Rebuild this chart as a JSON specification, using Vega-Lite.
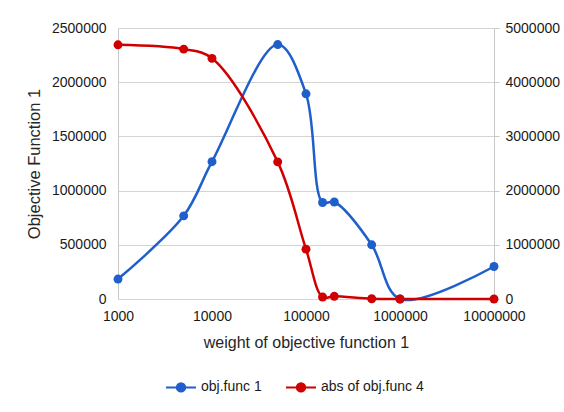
{
  "$schema": "https://vega.github.io/schema/vega-lite/v6.json",
  "width": 376,
  "height": 271,
  "autosize": "none",
  "padding": {"left": 118, "top": 28, "right": 70, "bottom": 113},
  "background": "white",
  "config": {
    "font": "Liberation Sans",
    "view": {"stroke": null},
    "axis": {"labelFont": "Liberation Sans", "titleFont": "Liberation Sans", "labelColor": "#1a1a1a", "titleColor": "#262626", "titleFontWeight": "normal", "labelFontSize": 14}
  },
  "data": {
    "values": [
      {"w": 1000, "series": "obj.func 1", "value": 184000},
      {"w": 5000, "series": "obj.func 1", "value": 767000},
      {"w": 10000, "series": "obj.func 1", "value": 1267000},
      {"w": 50000, "series": "obj.func 1", "value": 2347000},
      {"w": 100000, "series": "obj.func 1", "value": 1893000},
      {"w": 150000, "series": "obj.func 1", "value": 890000},
      {"w": 200000, "series": "obj.func 1", "value": 895000},
      {"w": 500000, "series": "obj.func 1", "value": 500000},
      {"w": 1000000, "series": "obj.func 1", "value": 0},
      {"w": 10000000, "series": "obj.func 1", "value": 300000},
      {"w": 1000, "series": "abs of obj.func 4", "value": 4690000},
      {"w": 5000, "series": "abs of obj.func 4", "value": 4610000},
      {"w": 10000, "series": "abs of obj.func 4", "value": 4440000},
      {"w": 50000, "series": "abs of obj.func 4", "value": 2530000},
      {"w": 100000, "series": "abs of obj.func 4", "value": 920000},
      {"w": 150000, "series": "abs of obj.func 4", "value": 37000},
      {"w": 200000, "series": "abs of obj.func 4", "value": 50000},
      {"w": 500000, "series": "abs of obj.func 4", "value": 5000},
      {"w": 1000000, "series": "abs of obj.func 4", "value": 0},
      {"w": 10000000, "series": "abs of obj.func 4", "value": 0}
    ]
  },
  "encoding": {
    "x": {
      "field": "w", "type": "quantitative",
      "scale": {"type": "log", "domain": [1000, 10000000], "nice": false},
      "axis": {"values": [1000, 10000, 100000, 1000000, 10000000], "format": "d", "grid": false, "ticks": false, "domain": false, "labelFlush": false, "labelOverlap": false, "labelPadding": 10, "title": "weight of objective function 1", "titleFontSize": 16, "titlePadding": 11}
    },
    "color": {
      "field": "series", "type": "nominal",
      "scale": {"domain": ["obj.func 1", "abs of obj.func 4"], "range": ["#1f5fcc", "#d00000"]},
      "legend": {
        "title": null, "orient": "none", "direction": "horizontal", "legendX": 47, "legendY": 343,
        "symbolType": "M-1,0L1,0M-0.28,0A0.28,0.28,0,1,1,0.28,0A0.28,0.28,0,1,1,-0.28,0Z",
        "symbolSize": 900, "symbolStrokeWidth": 2, "labelFont": "Liberation Sans", "labelFontSize": 14, "labelColor": "#1a1a1a", "labelOffset": 4, "columnPadding": 20,
        "encode": {"symbols": {"update": {"fill": {"scale": "color", "field": "value"}, "stroke": {"scale": "color", "field": "value"}}}}
      }
    }
  },
  "layer": [
    {
      "transform": [{"filter": "datum.series === 'obj.func 1'"}],
      "encoding": {
        "y": {
          "field": "value", "type": "quantitative",
          "scale": {"domain": [0, 2500000], "nice": false},
          "axis": {"values": [0, 500000, 1000000, 1500000, 2000000, 2500000], "format": "d", "ticks": false, "domain": true, "domainColor": "#c8c8c8", "gridColor": "#d4d4d4", "labelPadding": 12, "title": "Objective Function 1", "titleFontSize": 16.5, "titlePadding": 9}
        }
      },
      "layer": [
        {"mark": {"type": "line", "interpolate": "catmull-rom", "strokeWidth": 2.5}},
        {"mark": {"type": "point", "filled": true, "size": 80, "opacity": 1, "color": "#2a7de0"}}
      ]
    },
    {
      "transform": [{"filter": "datum.series === 'abs of obj.func 4'"}],
      "encoding": {
        "y": {
          "field": "value", "type": "quantitative",
          "scale": {"domain": [0, 5000000], "nice": false},
          "axis": {"orient": "right", "values": [0, 1000000, 2000000, 3000000, 4000000, 5000000], "format": "d", "grid": false, "ticks": true, "tickSize": 5, "tickColor": "#c8c8c8", "domainColor": "#c8c8c8", "labelPadding": 6, "title": null}
        }
      },
      "layer": [
        {"mark": {"type": "line", "interpolate": "catmull-rom", "strokeWidth": 2.5}},
        {"mark": {"type": "point", "filled": true, "size": 80, "opacity": 1, "color": "#e81010"}}
      ]
    }
  ],
  "resolve": {"scale": {"y": "independent"}}
}
